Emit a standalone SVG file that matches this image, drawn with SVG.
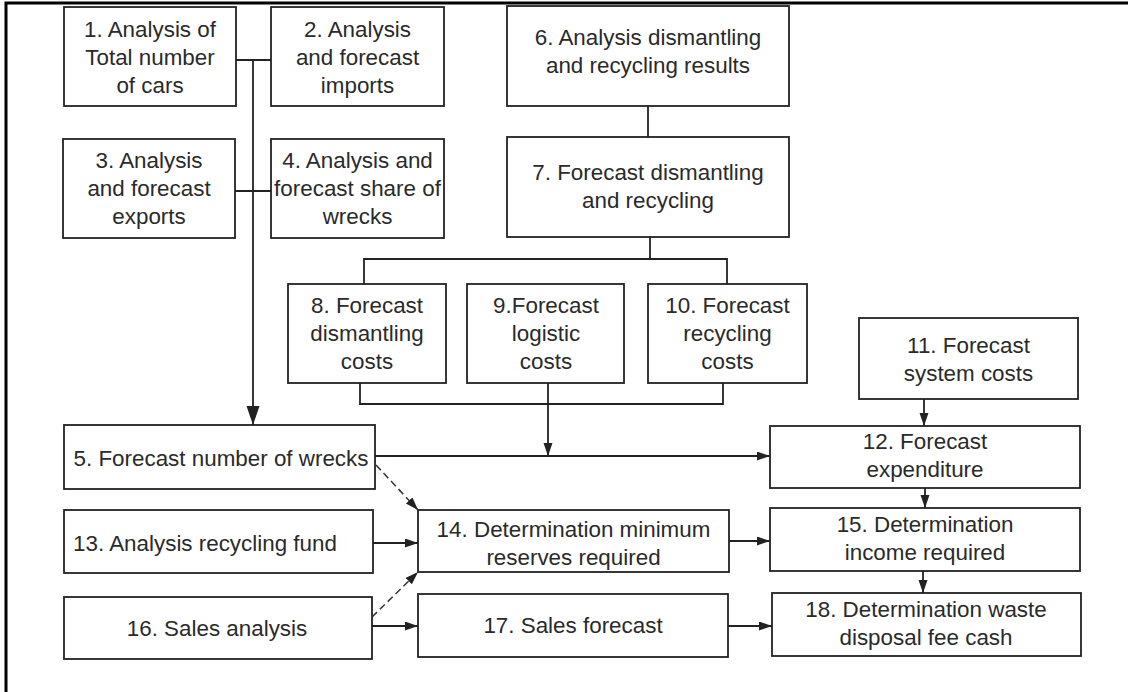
<svg xmlns="http://www.w3.org/2000/svg" width="1128" height="692" viewBox="0 0 1128 692">
<style>
  .box { fill: #ffffff; stroke: #222222; stroke-width: 1.8; }
  .t { font-family: "Liberation Sans", Arial, sans-serif; font-size: 22.4px; fill: #2a2a2a; text-anchor: middle; }
  .ln { fill: none; stroke: #222222; stroke-width: 1.8; }
  .dash { fill: none; stroke: #333333; stroke-width: 1.5; stroke-dasharray: 7 4; }
  .frame { fill: none; stroke: #000000; stroke-width: 3; }
</style>
<defs>
  <marker id="arr" markerUnits="userSpaceOnUse" markerWidth="14" markerHeight="10" refX="13" refY="4.5" orient="auto">
    <path d="M0,0 L13,4.5 L0,9 z" fill="#222222"/>
  </marker>
  <marker id="arrBig" markerUnits="userSpaceOnUse" markerWidth="20" markerHeight="14" refX="19" refY="6.5" orient="auto">
    <path d="M0,0 L19,6.5 L0,13 z" fill="#222222"/>
  </marker>
</defs>
<rect width="1128" height="692" fill="#ffffff"/>
<path class="frame" d="M6,692 L6,3 L1128,3"/>

<g id="connectors">
  <path class="ln" d="M236,60 L271,60"/>
  <path class="ln" d="M235,191 L271,191"/>
  <path class="ln" d="M253,60 L253,425" marker-end="url(#arrBig)"/>
  <path class="ln" d="M648,106 L648,137"/>
  <path class="ln" d="M650,237 L650,259"/>
  <path class="ln" d="M364,284 L364,259 L727,259 L727,284"/>
  <path class="ln" d="M360,383 L360,404 L723,404 L723,383"/>
  <path class="ln" d="M548,383 L548,456" marker-end="url(#arr)"/>
  <path class="ln" d="M375,456 L770,456" marker-end="url(#arr)"/>
  <path class="ln" d="M924,399 L924,426" marker-end="url(#arr)"/>
  <path class="ln" d="M925,488 L925,508" marker-end="url(#arr)"/>
  <path class="ln" d="M923,571 L923,593" marker-end="url(#arr)"/>
  <path class="ln" d="M373,543 L418,543" marker-end="url(#arr)"/>
  <path class="ln" d="M729,541 L770,541" marker-end="url(#arr)"/>
  <path class="ln" d="M372,626 L418,626" marker-end="url(#arr)"/>
  <path class="ln" d="M728,626 L772,626" marker-end="url(#arr)"/>
  <path class="dash" d="M376,465 L418,510" marker-end="url(#arr)"/>
  <path class="dash" d="M372,617 L418,572" marker-end="url(#arr)"/>
</g>

<g id="n1"><rect class="box" x="64" y="7" width="172" height="99"/>
  <text class="t" x="150" y="37">1. Analysis of</text><text class="t" x="150" y="65">Total number</text><text class="t" x="150" y="93">of cars</text></g>
<g id="n2"><rect class="box" x="271" y="7" width="173" height="99"/>
  <text class="t" x="357.5" y="37">2. Analysis</text><text class="t" x="357.5" y="65">and forecast</text><text class="t" x="357.5" y="93">imports</text></g>
<g id="n3"><rect class="box" x="63" y="139" width="172" height="99"/>
  <text class="t" x="149" y="168">3. Analysis</text><text class="t" x="149" y="196">and forecast</text><text class="t" x="149" y="224">exports</text></g>
<g id="n4"><rect class="box" x="271" y="139" width="173" height="99"/>
  <text class="t" x="357.5" y="168">4. Analysis and</text><text class="t" x="357.5" y="196">forecast share of</text><text class="t" x="357.5" y="224">wrecks</text></g>
<g id="n5"><rect class="box" x="64" y="425" width="311" height="64"/>
  <text class="t" x="221" y="466">5. Forecast number of wrecks</text></g>
<g id="n6"><rect class="box" x="507" y="6" width="282" height="100"/>
  <text class="t" x="648" y="45">6. Analysis dismantling</text><text class="t" x="648" y="73">and recycling results</text></g>
<g id="n7"><rect class="box" x="507" y="137" width="282" height="100"/>
  <text class="t" x="648" y="180">7. Forecast dismantling</text><text class="t" x="648" y="208">and recycling</text></g>
<g id="n8"><rect class="box" x="288" y="284" width="158" height="99"/>
  <text class="t" x="367" y="313">8. Forecast</text><text class="t" x="367" y="341">dismantling</text><text class="t" x="367" y="369">costs</text></g>
<g id="n9"><rect class="box" x="467" y="284" width="157" height="99"/>
  <text class="t" x="546" y="313">9.Forecast</text><text class="t" x="546" y="341">logistic</text><text class="t" x="546" y="369">costs</text></g>
<g id="n10"><rect class="box" x="648" y="284" width="159" height="99"/>
  <text class="t" x="727.5" y="313">10. Forecast</text><text class="t" x="727.5" y="341">recycling</text><text class="t" x="727.5" y="369">costs</text></g>
<g id="n11"><rect class="box" x="859" y="318" width="219" height="81"/>
  <text class="t" x="968.5" y="353">11. Forecast</text><text class="t" x="968.5" y="381">system costs</text></g>
<g id="n12"><rect class="box" x="770" y="426" width="310" height="62"/>
  <text class="t" x="925" y="449">12. Forecast</text><text class="t" x="925" y="477">expenditure</text></g>
<g id="n13"><rect class="box" x="64" y="510" width="309" height="63"/>
  <text class="t" x="205" y="551">13. Analysis recycling fund</text></g>
<g id="n14"><rect class="box" x="418" y="510" width="311" height="62"/>
  <text class="t" x="573.5" y="537">14. Determination minimum</text><text class="t" x="573.5" y="565">reserves required</text></g>
<g id="n15"><rect class="box" x="770" y="508" width="310" height="63"/>
  <text class="t" x="925" y="532">15. Determination</text><text class="t" x="925" y="560">income required</text></g>
<g id="n16"><rect class="box" x="64" y="597" width="308" height="62"/>
  <text class="t" x="217" y="636">16. Sales analysis</text></g>
<g id="n17"><rect class="box" x="418" y="594" width="310" height="63"/>
  <text class="t" x="573" y="633">17. Sales forecast</text></g>
<g id="n18"><rect class="box" x="772" y="593" width="309" height="63"/>
  <text class="t" x="926" y="617">18. Determination waste</text><text class="t" x="926" y="645">disposal fee cash</text></g>
</svg>
